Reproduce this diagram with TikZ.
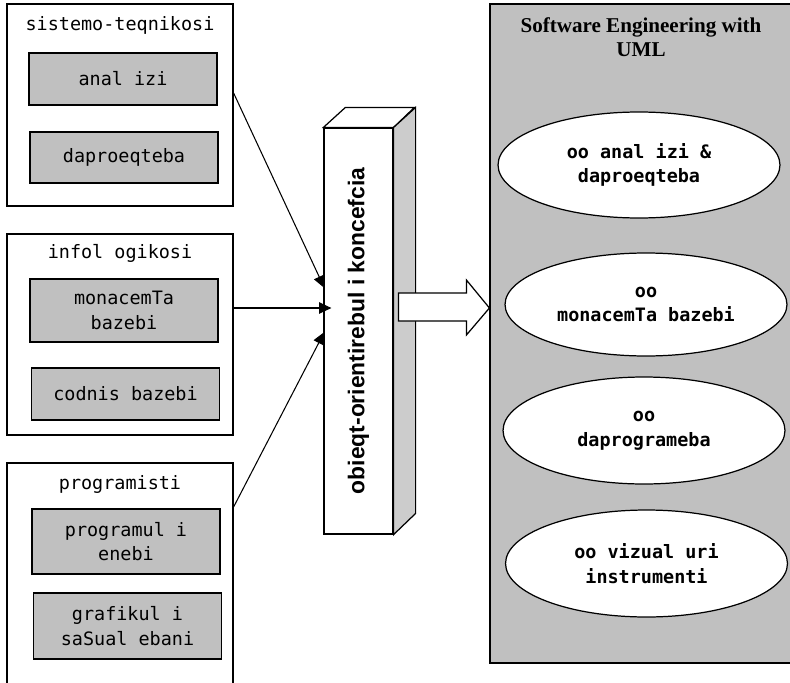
\documentclass[tikz,border=0pt]{standalone}
\usepackage{fontspec}
\usetikzlibrary{arrows.meta,shapes.geometric,calc}
\newfontfamily\geofont{DejaVu Sans Mono}
\newfontfamily\umlfont{Liberation Serif}
\newfontfamily\barfont{Liberation Sans}
\definecolor{panelgray}{HTML}{C0C0C0}
\definecolor{sidegray}{HTML}{CCCCCC}

\tikzset{
  px/.style={x=0.02cm,y=-0.02cm},
  group/.style={draw, line width=0.7pt, minimum width=4.52cm, inner sep=0pt},
  grouptitle/.style={font=\geofont\fontsize{10.5}{14}\selectfont},
  item/.style={draw, fill=panelgray, line width=0.7pt, minimum width=3.76cm,
    inner sep=0pt, align=center, font=\geofont\fontsize{10.5}{14}\selectfont},
  oo/.style={ellipse, draw, fill=white, line width=0.7pt, minimum width=5.64cm,
    inner sep=0pt, align=center, font=\geofont\bfseries\fontsize{10.5}{14}\selectfont},
  feed/.style={-{Triangle[length=7pt,width=6.5pt]}, line width=0.6pt},
}

\begin{document}
\begin{tikzpicture}[px]
  \useasboundingbox (0,0) rectangle (790,682);
  \clip (0,0) rectangle (790,682);
  \fill[white] (0,0) rectangle (790,682);

  % three groups on the left
  \node[group, minimum height=4.04cm] (sys) at (120,105) {};
  \node[grouptitle] (systitle) at (120,25) {sistemo-teqnikosi};
  \node[item, minimum height=1.04cm] (analysis) at (123,79) {anal izi};
  \node[item, minimum height=1.02cm] (design) at (124,157.5) {daproeqteba};

  \node[group, minimum height=4.02cm] (info) at (120,334.5) {};
  \node[grouptitle] (infotitle) at (120,253) {infol ogikosi};
  \node[item, minimum height=1.26cm] (db) at (124,310.5) {monacemTa\\bazebi};
  \node[item, minimum height=1.04cm] (kb) at (125.5,394) {codnis bazebi};

  \node[group, minimum height=4.5cm] (prog) at (120,575.5) {};
  \node[grouptitle] (progtitle) at (120,484) {programisti};
  \node[item, minimum height=1.3cm] (lang) at (126,541.5) {programul i\\enebi};
  \node[item, minimum height=1.32cm] (tools) at (127.5,626) {grafikul i\\saSual ebani};

  % the 3d bar
  \node[draw, fill=white, line width=0.7pt, minimum width=1.38cm,
    minimum height=8.12cm, inner sep=0pt] (bar) at (358.5,331) {};
  \draw[fill=white, line width=0.7pt] (bar.north west) -- ++(22,-20) -- ++(69,0)
    -- (bar.north east) -- cycle;
  \draw[fill=sidegray, line width=0.7pt] (bar.north east) -- ++(22,-20) -- ++(0,406)
    -- (bar.south east) -- cycle;
  \node[rotate=90, font=\barfont\bfseries\fontsize{13}{14}\selectfont] (barlabel)
    at (bar.center) {obieqt-orientirebul i koncefcia};

  \draw[feed] ($(sys.east)+(0,-12)$) -- ($(bar.west)+(1,-43)$);
  \draw[feed] ($(info.east)+(0,-26.5)$) -- ($(bar.west)+(8,-23)$);
  \draw[feed] ($(prog.east)+(0,-68.5)$) -- ($(bar.west)+(1,1)$);

  % right panel
  \node[draw, fill=panelgray, line width=0.7pt, minimum width=6.1cm,
    minimum height=13.18cm, inner sep=0pt] (panel) at (642.5,333.5) {};
  \node[font=\umlfont\bfseries\fontsize{12}{14}\selectfont, align=center] (umltitle)
    at (641,37) {Software Engineering with\\UML};
  \node[oo, minimum height=2.12cm] (ooa) at (639,165) {oo anal izi \&\\daproeqteba};
  \node[oo, minimum height=2.06cm] (oodb) at (646,304.5) {oo\\monacemTa bazebi};
  \node[oo, minimum height=2.14cm] (oop) at (644,430.5) {oo\\daprogrameba};
  \node[oo, minimum height=2.14cm] (oov) at (646.5,563.5) {oo vizual uri\\instrumenti};

  \coordinate (tip) at ($(panel.west)+(0,-25.5)$);
  \draw[fill=white, line width=0.7pt] (tip) -- ++(-23,-28) -- ++(0,13) -- ++(-68,0)
    -- ++(0,28) -- ++(68,0) -- ++(0,14) -- cycle;
\end{tikzpicture}
\end{document}
